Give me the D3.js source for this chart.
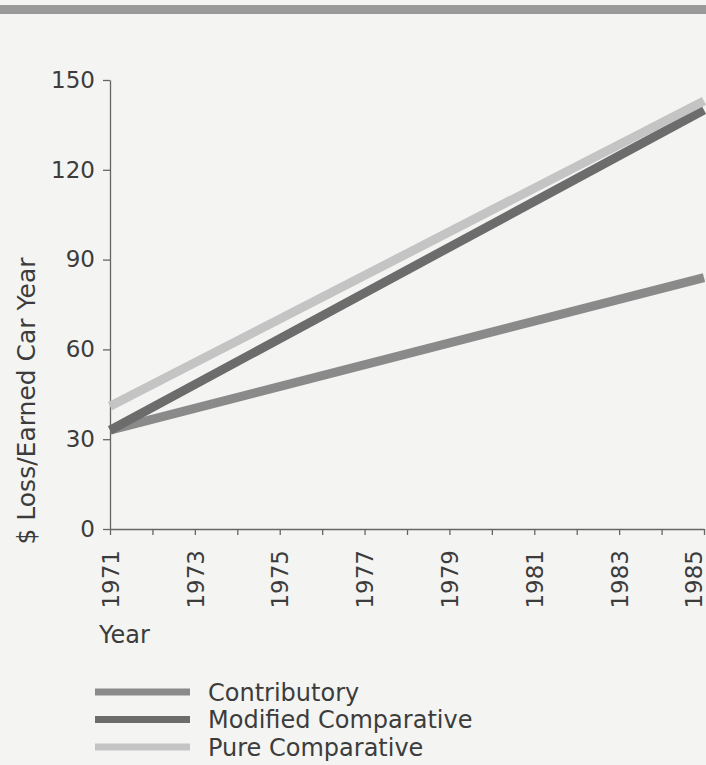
<!DOCTYPE html>
<html>
<head>
<meta charset="utf-8">
<script src="https://cdn.jsdelivr.net/npm/d3@7"></script>
<style>
  body { margin: 0; background: #f4f4f2; }
  text { font-family: "DejaVu Sans", sans-serif; fill: #3c3c3c; }
</style>
</head>
<body>
<div id="chart"></div>
<script>
// データ
const years = [1971, 1985];
const contributory = [33, 84];
const modifiedComparative = [33, 140];
const pureComparative = [41, 143];
const yTicks = [0, 30, 60, 90, 120, 150];
const xLabelYears = [1971, 1973, 1975, 1977, 1979, 1981, 1983, 1985];
const seriesNames = ['Contributory', 'Modified Comparative', 'Pure Comparative'];
const seriesColors = ['#8a8a8a', '#6c6c6c', '#c4c4c4'];

const width = 706, height = 765;
const svg = d3.select('#chart').append('svg')
    .attr('width', width)
    .attr('height', height);

// 上部の帯
svg.append('rect')
    .attr('x', 0).attr('y', 5)
    .attr('width', width).attr('height', 9)
    .attr('fill', '#9a9a9a');

const x = d3.scaleLinear().domain([1971, 1985]).range([110, 704]);
const y = d3.scaleLinear().domain([0, 150]).range([529, 80]);

// y軸
const yAxis = svg.append('g')
    .attr('transform', 'translate(110,0)')
    .call(d3.axisLeft(y).tickValues(yTicks).tickSize(7).tickPadding(8).tickSizeOuter(0));
yAxis.select('.domain').attr('stroke', '#666').attr('stroke-width', 1.3);
yAxis.selectAll('.tick line').attr('stroke', '#666').attr('stroke-width', 1.3);
yAxis.selectAll('text').attr('font-size', 23).attr('fill', '#3c3c3c')
    .attr('font-family', '"DejaVu Sans", sans-serif');

// x軸（毎年の目盛り、ラベルは2年ごと）
const xAxis = svg.append('g')
    .attr('transform', `translate(0,${y(0)})`)
    .call(d3.axisBottom(x).tickValues(d3.range(1971, 1986)).tickSize(6)
        .tickSizeOuter(0)
        .tickFormat(d => xLabelYears.includes(d) ? String(d) : ''));
xAxis.select('.domain').attr('stroke', '#666').attr('stroke-width', 1.3);
xAxis.selectAll('.tick line').attr('stroke', '#666').attr('stroke-width', 1.3);
xAxis.selectAll('text')
    .attr('font-size', 23).attr('fill', '#3c3c3c')
    .attr('font-family', '"DejaVu Sans", sans-serif')
    .attr('text-anchor', 'end')
    .attr('transform', 'rotate(-90)')
    .attr('x', -21)
    .attr('y', d => d === 1985 ? -11 : 0)
    .attr('dy', '0.36em');

// 軸タイトル
svg.append('text')
    .attr('transform', 'translate(35,401) rotate(-90)')
    .attr('text-anchor', 'middle')
    .attr('font-size', 25)
    .text('$ Loss/Earned Car Year');

svg.append('text')
    .attr('x', 99).attr('y', 643)
    .attr('font-size', 24)
    .text('Year');

// 折れ線
const series = [contributory, modifiedComparative, pureComparative];
const line = d3.line().x((d, i) => x(years[i])).y(d => y(d));
svg.selectAll('path.series')
    .data(series)
    .enter()
    .append('path')
    .attr('class', 'series')
    .attr('d', d => line(d))
    .attr('fill', 'none')
    .attr('stroke', (d, i) => seriesColors[i])
    .attr('stroke-width', 9);

// 凡例
const legend = svg.selectAll('g.legend')
    .data(seriesNames)
    .enter()
    .append('g')
    .attr('class', 'legend')
    .attr('transform', (d, i) => `translate(95,${692 + i * 27.5})`);
legend.append('rect')
    .attr('x', 0).attr('y', -3.5)
    .attr('width', 95).attr('height', 7)
    .attr('fill', (d, i) => seriesColors[i]);
legend.append('text')
    .attr('x', 113).attr('y', 0).attr('dy', '0.36em')
    .attr('font-size', 24)
    .text(d => d);
</script>
</body>
</html>
